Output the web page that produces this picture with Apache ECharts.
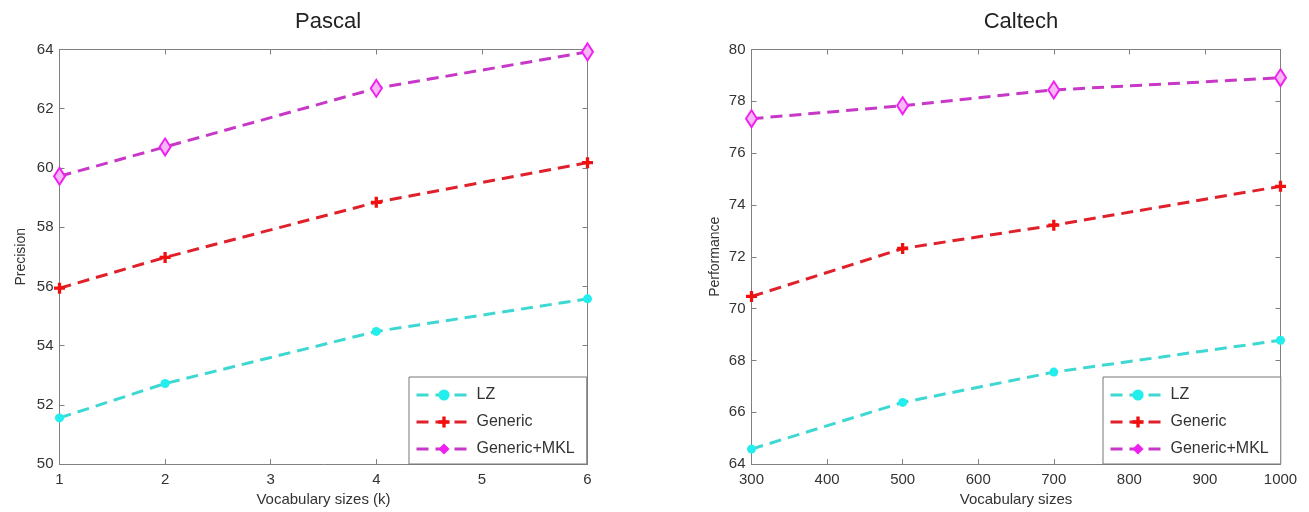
<!DOCTYPE html>
<html>
<head>
<meta charset="utf-8">
<script src="https://cdn.jsdelivr.net/npm/echarts@6/dist/echarts.min.js"></script>
<style>
    html, body { margin: 0; padding: 0; background: #fff; }
    #chart { width: 1309px; height: 512px; }
</style>
</head>
<body>
<div id="chart"></div>
<script>
// values
const pascalX = [1, 2, 4, 6]
const pascalLZ = [51.56, 52.72, 54.48, 55.58]
const pascalGeneric = [55.94, 56.98, 58.84, 60.18]
const pascalMKL = [59.72, 60.71, 62.69, 63.92]

const caltechX = [300, 500, 700, 1000]
const caltechLZ = [64.58, 66.38, 67.55, 68.78]
const caltechGeneric = [70.47, 72.32, 73.22, 74.72]
const caltechMKL = [77.33, 77.83, 78.44, 78.91]

const seriesNames = ['LZ', 'Generic', 'Generic+MKL']

const FONT = '"Liberation Sans", Arial, sans-serif'
const TEXT = '#333'
const AXIS = '#808080'

const plusPath = 'path://M3.5,0 H6.5 V3.5 H10 V6.5 H6.5 V10 H3.5 V6.5 H0 V3.5 H3.5 Z'

const styles = {
    'LZ': {
        line: '#3ed8d2',
        symbol: 'circle',
        symbolSize: 9,
        itemStyle: { color: '#22eeee' },
        legendItem: { color: '#22eeee' },
    },
    'Generic': {
        line: '#e0202a',
        symbol: plusPath,
        symbolSize: 11,
        itemStyle: { color: '#f01010' },
        legendItem: { color: '#f01010' },
    },
    'Generic+MKL': {
        line: '#c838c8',
        symbol: 'diamond',
        symbolSize: [11, 17],
        itemStyle: { color: '#f6b8f6', borderColor: '#f020f0', borderWidth: 2 },
        legendItem: { color: '#f020f0', borderWidth: 0 },
    },
}

function makeSeries (name, xs, ys, idx) {
    const s = styles[name]
    return {
        name: name,
        type: 'line',
        xAxisIndex: idx * 2,
        yAxisIndex: idx * 2,
        data: xs.map((x, i) => [x, ys[i]]),
        symbol: s.symbol,
        symbolSize: s.symbolSize,
        itemStyle: s.itemStyle,
        lineStyle: { color: s.line, width: 3, type: [12, 7] },
        silent: true,
        z: 3,
    }
}

function boxAxes (gridIndex, min, max, interval, name, nameGap, horizontal) {
    const common = {
        type: 'value',
        gridIndex: gridIndex,
        min: min,
        max: max,
        interval: interval,
        splitLine: { show: false },
        axisLine: { show: true, onZero: false, lineStyle: { color: AXIS, width: 1 } },
        axisTick: { show: true, inside: true, length: 5, lineStyle: { color: AXIS } },
    }
    return [
        Object.assign({}, common, {
            position: horizontal ? 'bottom' : 'left',
            name: name,
            nameLocation: 'middle',
            nameGap: nameGap,
            nameTextStyle: { color: TEXT, fontSize: horizontal ? 15 : 14, fontFamily: FONT },
            axisLabel: {
                color: TEXT, fontSize: 15, fontFamily: FONT,
                margin: horizontal ? 8 : 6,
                formatter: v => String(v),
            },
        }),
        Object.assign({}, common, {
            position: horizontal ? 'top' : 'right',
            axisLabel: { show: false },
        }),
    ]
}

function makeLegend (left) {
    return {
        orient: 'vertical',
        left: left,
        top: 377,
        padding: [10, 12, 7, 6],
        itemGap: 11,
        itemWidth: 55,
        itemHeight: 14,
        borderColor: '#777',
        borderWidth: 1,
        borderRadius: 0,
        backgroundColor: '#fff',
        selectedMode: false,
        data: seriesNames.map(n => ({ name: n, itemStyle: styles[n].legendItem })),
        textStyle: { color: TEXT, fontSize: 16, fontFamily: FONT },
        lineStyle: { width: 3 },
    }
}

const option = {
    animation: false,
    backgroundColor: '#fff',
    title: [
        { text: 'Pascal', left: 323, top: 6, textAlign: 'center',
          textStyle: { color: '#222', fontSize: 22, fontWeight: 'normal', fontFamily: FONT } },
        { text: 'Caltech', left: 1016, top: 6, textAlign: 'center',
          textStyle: { color: '#222', fontSize: 22, fontWeight: 'normal', fontFamily: FONT } },
    ],
    grid: [
        { left: 59.5, top: 49.5, width: 528, height: 415 },
        { left: 751.5, top: 49.5, width: 529, height: 415 },
    ],
    xAxis: [
        ...boxAxes(0, 1, 6, 1, 'Vocabulary sizes (k)', 24, true),
        ...boxAxes(1, 300, 1000, 100, 'Vocabulary sizes', 24, true),
    ],
    yAxis: [
        ...boxAxes(0, 50, 64, 2, 'Precision', 31, false),
        ...boxAxes(1, 64, 80, 2, 'Performance', 29, false),
    ],
    legend: [makeLegend(409), makeLegend(1103)],
    series: [
        makeSeries('LZ', pascalX, pascalLZ, 0),
        makeSeries('Generic', pascalX, pascalGeneric, 0),
        makeSeries('Generic+MKL', pascalX, pascalMKL, 0),
        makeSeries('LZ', caltechX, caltechLZ, 1),
        makeSeries('Generic', caltechX, caltechGeneric, 1),
        makeSeries('Generic+MKL', caltechX, caltechMKL, 1),
    ],
}

const chart = echarts.init(document.getElementById('chart'), null, { renderer: 'canvas' })
chart.setOption(option)
</script>
</body>
</html>
